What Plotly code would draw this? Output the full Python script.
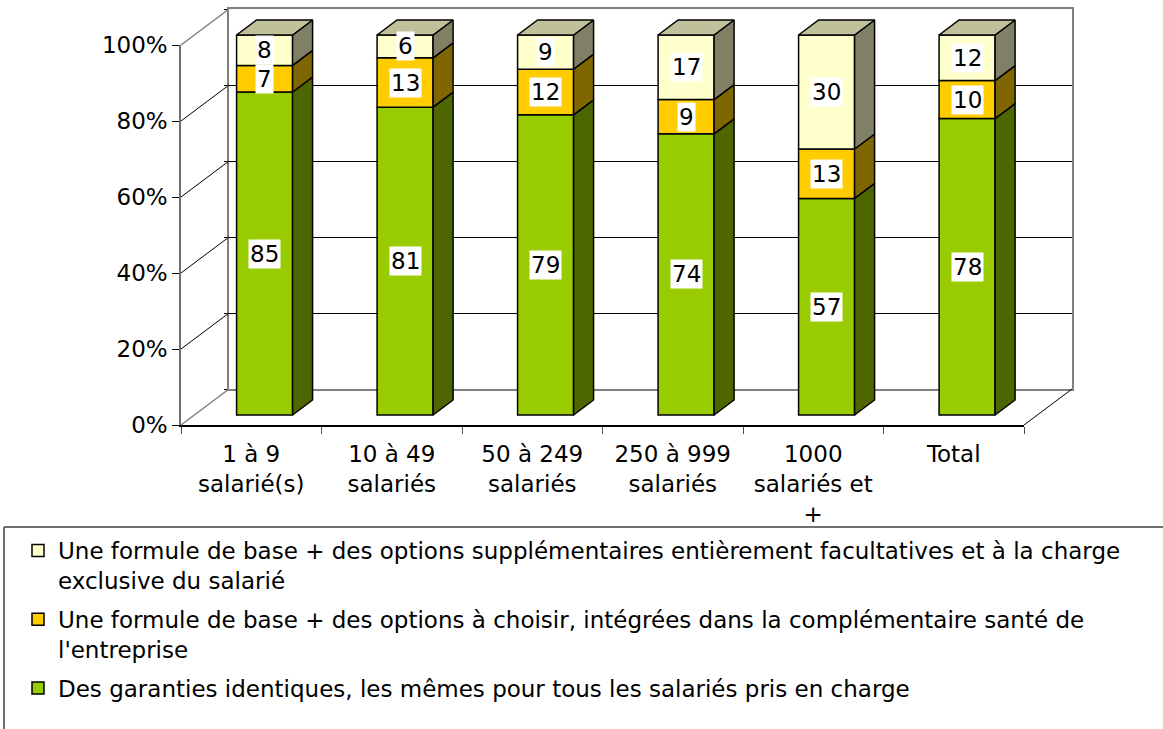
import plotly.graph_objects as go

# ---------------- data ----------------
categories = ["1 à 9<br>salarié(s)", "10 à 49<br>salariés", "50 à 249<br>salariés",
              "250 à 999<br>salariés", "1000<br>salariés et<br>+", "Total"]
identiques = [85, 81, 79, 74, 57, 78]
options_integrees = [7, 13, 12, 9, 13, 10]
options_facultatives = [8, 6, 9, 17, 30, 12]
series_names = [
    "Des garanties identiques, les mêmes pour tous les salariés pris en charge",
    "Une formule de base + des options à choisir, intégrées dans la complémentaire santé de<br>l'entreprise",
    "Une formule de base + des options supplémentaires entièrement facultatives et à la charge<br>exclusive du salarié",
]
y_tick_values = [0, 20, 40, 60, 80, 100]
y_tick_labels = ["0%", "20%", "40%", "60%", "80%", "100%"]

# ---------------- style ----------------
front_colors = ["#99CC00", "#FFCC00", "#FFFFCC"]
side_colors = ["#4D6600", "#806600", "#808066"]
top_color = "#C0C09A"
FONT = "Verdana, DejaVu Sans, sans-serif"
FS = 23

# ---------------- geometry (pixels) ----------------
W, H = 1163, 729
FX0, FX1 = 181, 1024      # front plane x extent
FY0, FY1 = 425, 45        # front plane y of 0% and 100%
DX, DY = 48, -36          # full depth offset
F_FRONT = 10 / 36         # depth of bar front faces
F_DEPTH = 15 / 36         # bar depth
BAR_PX = 56
n = len(categories)
cat_px = (FX1 - FX0) / n
unit_px = (FY0 - FY1) / 100
BAR_W = BAR_PX / cat_px
ddx = F_DEPTH * DX / cat_px
ddy = -F_DEPTH * DY / unit_px
Y_LO, Y_HI = -2, 106


def px(x):
    return x / W


def py(y):
    return 1 - y / H


series = [identiques, options_integrees, options_facultatives]
bases = []
acc = [0] * n
for s in series:
    bases.append(list(acc))
    acc = [a + v for a, v in zip(acc, s)]
totals = acc

fig = go.Figure()

# dummy traces so that the back wall and the categorical front axis exist
fig.add_trace(go.Scatter(x=[0.5], y=[None], mode="markers", showlegend=False,
                         hoverinfo="skip", xaxis="x", yaxis="y"))
fig.add_trace(go.Scatter(x=categories, y=[None] * n, mode="markers", showlegend=False,
                         hoverinfo="skip", xaxis="x2", yaxis="y2"))

xs_idx = list(range(n))
for k, (vals, base) in enumerate(zip(series, bases)):
    fig.add_trace(go.Bar(
        x=xs_idx, y=vals, base=base, width=BAR_W, name=series_names[k],
        marker=dict(color=front_colors[k], line=dict(color="black", width=1.5)),
        xaxis="x3", yaxis="y3", legendgroup=f"g{k}", legendrank=3 - k,
        hoverinfo="skip"))
    sx, sy = [], []
    for i in range(n):
        b0, b1 = base[i], base[i] + vals[i]
        xr = i + BAR_W / 2
        sx += [xr, xr + ddx, xr + ddx, xr, xr, None]
        sy += [b0, b0 + ddy, b1 + ddy, b1, b0, None]
    fig.add_trace(go.Scatter(x=sx, y=sy, fill="toself", fillcolor=side_colors[k],
                             mode="lines", line=dict(color="black", width=1.5),
                             showlegend=False, hoverinfo="skip", xaxis="x3", yaxis="y3"))

# top faces
tx, ty = [], []
for i in range(n):
    t = totals[i]
    xl, xr = i - BAR_W / 2, i + BAR_W / 2
    tx += [xl, xl + ddx, xr + ddx, xr, xl, None]
    ty += [t, t + ddy, t + ddy, t, t, None]
fig.add_trace(go.Scatter(x=tx, y=ty, fill="toself", fillcolor=top_color, mode="lines",
                         line=dict(color="black", width=1.5), showlegend=False,
                         hoverinfo="skip", xaxis="x3", yaxis="y3"))

# value labels
annotations = []
for k, (vals, base) in enumerate(zip(series, bases)):
    for i in range(n):
        annotations.append(dict(
            x=i, y=base[i] + vals[i] / 2, xref="x3", yref="y3", text=str(vals[i]),
            showarrow=False, bgcolor="white", borderpad=1,
            font=dict(family=FONT, size=FS, color="black")))

# walls: diagonal lines
shapes = []
for v in y_tick_values:
    y0 = FY0 - v * unit_px
    col = "#808080" if v in (y_tick_values[0], y_tick_values[-1]) else "black"
    wdt = 1.5 if col == "#808080" else 1
    shapes.append(dict(type="line", xref="paper", yref="paper",
                       x0=px(FX0), y0=py(y0), x1=px(FX0 + DX), y1=py(y0 + DY),
                       line=dict(color=col, width=wdt), layer="above"))
shapes.append(dict(type="line", xref="paper", yref="paper",
                   x0=px(FX1), y0=py(FY0), x1=px(FX1 + DX), y1=py(FY0 + DY),
                   line=dict(color="black", width=1), layer="above"))
# legend frame (top and left edges; the rest falls outside the picture)
shapes.append(dict(type="line", xref="paper", yref="paper",
                   x0=px(4), y0=py(527), x1=1, y1=py(527),
                   line=dict(color="#404040", width=1.5)))
shapes.append(dict(type="line", xref="paper", yref="paper",
                   x0=px(4), y0=py(527), x1=px(4), y1=0,
                   line=dict(color="#404040", width=1.5)))

bar_y_bottom = FY0 + F_FRONT * DY - Y_LO * unit_px
bar_y_top = FY0 + F_FRONT * DY - Y_HI * unit_px

fig.update_layout(
    width=W, height=H, margin=dict(l=0, r=0, t=0, b=0, autoexpand=False),
    paper_bgcolor="white", plot_bgcolor="rgba(0,0,0,0)",
    font=dict(family=FONT, size=FS, color="black"),
    barmode="overlay", showlegend=True,
    # back wall
    xaxis=dict(domain=[px(FX0 + DX), px(FX1 + DX)], range=[0, 1], anchor="y",
               showgrid=False, zeroline=False, showticklabels=False, ticks="",
               showline=True, mirror=True, linecolor="#808080", linewidth=2, fixedrange=True),
    yaxis=dict(domain=[py(FY0 + DY), py(FY1 + DY)], range=[0, 100], anchor="x",
               tickvals=y_tick_values, showgrid=True, gridcolor="black", gridwidth=1,
               zeroline=False, showticklabels=False, ticks="outside", ticklen=3,
               tickcolor="black", showline=True, mirror=True, linecolor="#808080",
               linewidth=2, fixedrange=True),
    # front axes
    xaxis2=dict(domain=[px(FX0), px(FX1)], range=[-0.5, n - 0.5], anchor="y2",
                type="category", categoryorder="array", categoryarray=categories,
                tickson="boundaries", ticks="outside", ticklen=7, tickcolor="#505050",
                showline=True, linecolor="black", linewidth=1.5, showgrid=False,
                zeroline=False, tickfont=dict(family=FONT, size=FS, color="black"),
                ticklabelstandoff=8, fixedrange=True),
    yaxis2=dict(domain=[py(FY0), py(FY1)], range=[0, 100], anchor="x2",
                tickvals=y_tick_values, ticktext=y_tick_labels, ticks="outside",
                ticklen=7, tickcolor="black", showline=True, linecolor="#707070",
                linewidth=1.5, showgrid=False, zeroline=False,
                tickfont=dict(family=FONT, size=FS, color="black"),
                ticklabelstandoff=0, fixedrange=True),
    # bars plane
    xaxis3=dict(domain=[px(FX0 + F_FRONT * DX), px(FX1 + F_FRONT * DX)],
                range=[-0.5, n - 0.5], anchor="y3", visible=False, fixedrange=True),
    yaxis3=dict(domain=[py(bar_y_bottom), py(bar_y_top)], range=[Y_LO, Y_HI],
                anchor="x3", visible=False, fixedrange=True),
    legend=dict(x=px(18), y=py(529), xanchor="left", yanchor="top",
                font=dict(family=FONT, size=FS, color="black"), valign="top",
                traceorder="grouped", tracegroupgap=6, bgcolor="rgba(0,0,0,0)",
                borderwidth=0),
    annotations=annotations, shapes=shapes,
)

fig.write_html("out.html", config={"displayModeBar": False},
               post_script="document.body.style.margin='0px';")
